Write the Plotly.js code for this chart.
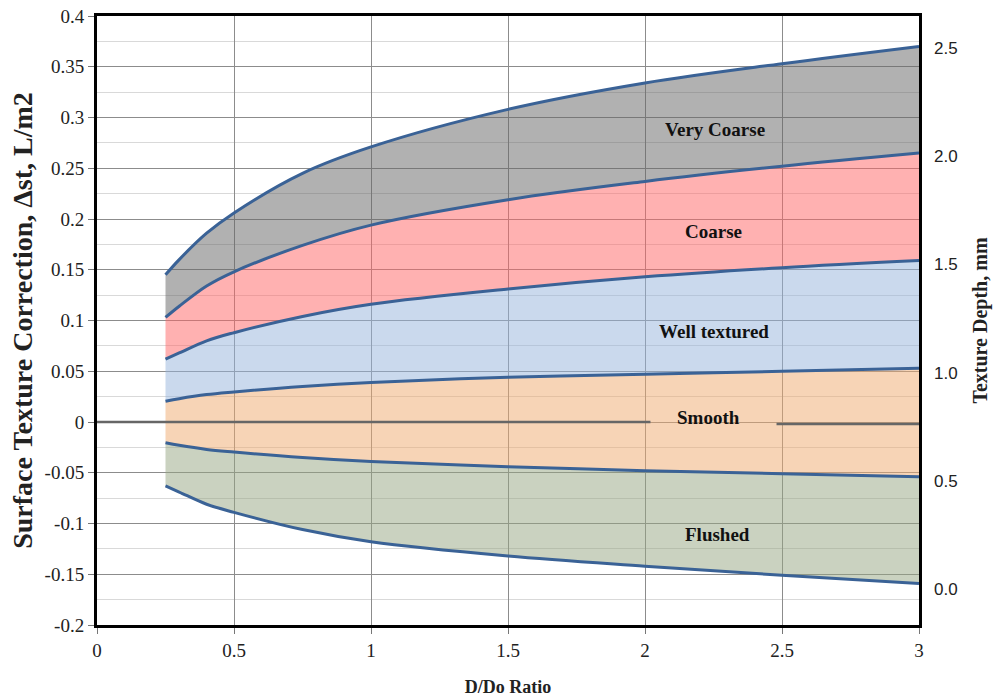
<!DOCTYPE html>
<html>
<head>
<meta charset="utf-8">
<script src="https://cdn.plot.ly/plotly-3.0.1.min.js"></script>
<style>html,body{margin:0;padding:0;background:#fff;}#chart{width:998px;height:697px;}</style>
</head>
<body>
<div id="chart"></div>
<script>
// D/Do ratio sample points
const ratio = [0.25, 0.3, 0.4, 0.5, 0.75, 1, 1.5, 2, 2.5, 3];
// Band boundary curves (Surface texture correction, L/m2)
const veryCoarseTop = [0.145, 0.160, 0.186, 0.206, 0.245, 0.271, 0.308, 0.334, 0.353, 0.370];
const coarseTop     = [0.103, 0.114, 0.134, 0.148, 0.174, 0.194, 0.219, 0.237, 0.252, 0.265];
const wellTop       = [0.062, 0.068, 0.080, 0.088, 0.104, 0.116, 0.131, 0.143, 0.152, 0.159];
const smoothTop     = [0.0205, 0.023, 0.027, 0.0296, 0.035, 0.039, 0.044, 0.047, 0.050, 0.053];
const smoothBottom  = [-0.0205, -0.023, -0.027, -0.0296, -0.035, -0.039, -0.044, -0.048, -0.051, -0.054];
const flushedBottom = [-0.063, -0.069, -0.081, -0.089, -0.106, -0.118, -0.132, -0.142, -0.151, -0.159];
// Zero reference line segments (broken around the "Smooth" label)
const zeroLeftX = [0, 2.02], zeroLeftY = [0, 0];
const zeroRightX = [2.48, 3], zeroRightY = [-0.002, -0.002];
// Band labels
const bandNames = ["Very Coarse", "Coarse", "Well textured", "Smooth", "Flushed"];
const bandLabelX = [2.255, 2.25, 2.25, 2.23, 2.265];
const bandLabelY = [0.288, 0.188, 0.089, 0.004, -0.111];
// Left axis ticks
const corrTickVals = [-0.2, -0.15, -0.1, -0.05, 0, 0.05, 0.1, 0.15, 0.2, 0.25, 0.3, 0.35, 0.4];
const corrTickText = ["-0.2", "-0.15", "-0.1", "-0.05", "0", "0.05", "0.1", "0.15", "0.2", "0.25", "0.3", "0.35", "0.4"];
// Right axis ticks (texture depth, mm)
const depthTicks = [0.0, 0.5, 1.0, 1.5, 2.0, 2.5];

const serif = "'Liberation Serif', 'Times New Roman', serif";
const lineColor = "#3a6296";

const curves = [flushedBottom, smoothBottom, smoothTop, wellTop, coarseTop, veryCoarseTop];
const fills = [null, "rgba(150,165,130,0.5)", "rgba(240,170,110,0.5)", "rgba(150,180,220,0.5)", "rgba(255,100,100,0.5)", "rgba(100,100,100,0.5)"];

const traces = [];
curves.forEach((c, i) => {
  traces.push({
    x: ratio, y: c, type: "scatter", mode: "lines",
    line: {width: 0, shape: "spline", smoothing: 1},
    fill: i === 0 ? "none" : "tonexty",
    fillcolor: fills[i] || undefined,
    hoverinfo: "skip", showlegend: false
  });
});
curves.forEach((c) => {
  traces.push({
    x: ratio, y: c, type: "scatter", mode: "lines",
    line: {width: 3, color: lineColor, shape: "spline", smoothing: 1},
    showlegend: false
  });
});
traces.push({x: zeroLeftX, y: zeroLeftY, type: "scatter", mode: "lines", line: {width: 2.5, color: "#666"}, showlegend: false});
traces.push({x: zeroRightX, y: zeroRightY, type: "scatter", mode: "lines", line: {width: 2.5, color: "#666"}, showlegend: false});

const annotations = bandNames.map((t, i) => ({
  x: bandLabelX[i], y: bandLabelY[i], xref: "x", yref: "y", text: "<b>" + t + "</b>",
  showarrow: false, font: {family: serif, size: 19, color: "#111"}
}));

const layout = {
  width: 998, height: 697,
  margin: {l: 97, r: 79, t: 16, b: 72},
  paper_bgcolor: "#fff", plot_bgcolor: "#fff",
  font: {family: serif, size: 19, color: "#222"},
  showlegend: false,
  xaxis: {
    range: [0, 3], dtick: 0.5, tick0: 0,
    showgrid: true, gridcolor: "#8c8c8c", gridwidth: 1,
    zeroline: false, showline: true, linecolor: "#000", linewidth: 3, mirror: true,
    ticks: "outside", ticklen: 6, tickcolor: "#777",
    tickfont: {family: serif, size: 19, color: "#222"},
    title: {text: "<b>D/Do Ratio</b>", font: {family: serif, size: 18, color: "#222"}, standoff: 22}
  },
  yaxis: {
    range: [-0.2, 0.4], tickmode: "array", tickvals: corrTickVals, ticktext: corrTickText,
    showgrid: true, gridcolor: "#8c8c8c", gridwidth: 1,
    minor: {dtick: 0.025, tick0: 0, showgrid: true, gridcolor: "#d9d9d9", gridwidth: 1},
    zeroline: false, showline: true, linecolor: "#000", linewidth: 3, mirror: true,
    ticks: "outside", ticklen: 6, tickcolor: "#777",
    tickfont: {family: serif, size: 19, color: "#222"},
    title: {text: "<b>Surface Texture Correction, Δst, L/m2</b>", font: {family: serif, size: 28, color: "#222"}, standoff: 4}
  },
  yaxis2: {
    overlaying: "y", side: "right", anchor: "x",
    range: [-0.166, 2.648], tickvals: depthTicks, tickformat: ".1f",
    showgrid: false, zeroline: false, showline: false,
    ticks: "", ticklabelstandoff: 14,
    tickfont: {family: "'Liberation Sans', Arial, sans-serif", size: 17, color: "#222"},
    title: {text: "<b>Texture Depth, mm</b>", font: {family: serif, size: 20, color: "#222"}, standoff: 16}
  },
  annotations: annotations
};

// empty reference trace so the secondary (depth) axis is laid out
traces.push({x: [], y: [], yaxis: "y2", type: "scatter", mode: "lines", showlegend: false, hoverinfo: "skip"});

Plotly.newPlot("chart", traces, layout, {displayModeBar: false, staticPlot: true});
</script>
</body>
</html>
